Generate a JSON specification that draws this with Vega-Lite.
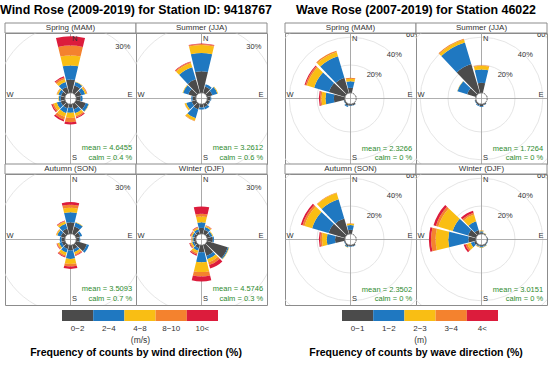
{
  "$schema": "https://vega.github.io/schema/vega-lite/v6.json",
  "padding": {"left": 0, "top": 3, "right": 0, "bottom": 0},
  "config": {"view": {"stroke": "#8c8c8c"}, "font": "Liberation Sans", "text": {"color": "#333333"},
             "header": {"labels": false, "title": null, "labelFontSize": 0, "labelPadding": 0, "titlePadding": 0},
             "headerFacet": {"labels": false, "title": null, "labelFontSize": 0, "labelPadding": 0},
             "headerRow": {"labels": false, "title": null, "labelFontSize": 0, "labelPadding": 0},
             "headerColumn": {"labels": false, "title": null, "labelFontSize": 0, "labelPadding": 0}},
  "spacing": 12,
  "datasets": {
    "wind": [
      {"k": "m", "s": "MAM", "t": "Spring (MAM)", "mean": "mean = 4.6455", "calm": "calm = 0.4 %"},
      {"k": "m", "s": "JJA", "t": "Summer (JJA)", "mean": "mean = 3.2612", "calm": "calm = 0.6 %"},
      {"k": "m", "s": "SON", "t": "Autumn (SON)", "mean": "mean = 3.5093", "calm": "calm = 0.7 %"},
      {"k": "m", "s": "DJF", "t": "Winter (DJF)", "mean": "mean = 4.5746", "calm": "calm = 0.3 %"},
      {"s": "MAM", "d": 0, "b": 0, "f": 5.8}, {"s": "MAM", "d": 0, "b": 1, "f": 6.2}, {"s": "MAM", "d": 0, "b": 2, "f": 4.4}, {"s": "MAM", "d": 0, "b": 3, "f": 4.3}, {"s": "MAM", "d": 0, "b": 4, "f": 4.1},
      {"s": "MAM", "d": 30, "b": 0, "f": 3.5}, {"s": "MAM", "d": 30, "b": 1, "f": 1.5}, {"s": "MAM", "d": 30, "b": 2, "f": 0.3},
      {"s": "MAM", "d": 60, "b": 0, "f": 2.5}, {"s": "MAM", "d": 60, "b": 1, "f": 1.7}, {"s": "MAM", "d": 60, "b": 2, "f": 0.7}, {"s": "MAM", "d": 60, "b": 3, "f": 0.2}, {"s": "MAM", "d": 60, "b": 4, "f": 0.1},
      {"s": "MAM", "d": 90, "b": 0, "f": 2.0}, {"s": "MAM", "d": 90, "b": 1, "f": 0.8},
      {"s": "MAM", "d": 120, "b": 0, "f": 4.5}, {"s": "MAM", "d": 120, "b": 1, "f": 1.3}, {"s": "MAM", "d": 120, "b": 2, "f": 0.2},
      {"s": "MAM", "d": 150, "b": 0, "f": 2.5}, {"s": "MAM", "d": 150, "b": 1, "f": 1.8}, {"s": "MAM", "d": 150, "b": 2, "f": 1.2}, {"s": "MAM", "d": 150, "b": 3, "f": 0.6}, {"s": "MAM", "d": 150, "b": 4, "f": 0.5},
      {"s": "MAM", "d": 180, "b": 0, "f": 1.6}, {"s": "MAM", "d": 180, "b": 1, "f": 2.2}, {"s": "MAM", "d": 180, "b": 2, "f": 2.2}, {"s": "MAM", "d": 180, "b": 3, "f": 1.9}, {"s": "MAM", "d": 180, "b": 4, "f": 1.0},
      {"s": "MAM", "d": 210, "b": 0, "f": 2.0}, {"s": "MAM", "d": 210, "b": 1, "f": 2.2}, {"s": "MAM", "d": 210, "b": 2, "f": 1.8}, {"s": "MAM", "d": 210, "b": 3, "f": 1.2}, {"s": "MAM", "d": 210, "b": 4, "f": 0.8},
      {"s": "MAM", "d": 240, "b": 0, "f": 2.0}, {"s": "MAM", "d": 240, "b": 1, "f": 1.8}, {"s": "MAM", "d": 240, "b": 2, "f": 1.3}, {"s": "MAM", "d": 240, "b": 3, "f": 0.7}, {"s": "MAM", "d": 240, "b": 4, "f": 0.5},
      {"s": "MAM", "d": 270, "b": 0, "f": 1.8}, {"s": "MAM", "d": 270, "b": 1, "f": 0.8}, {"s": "MAM", "d": 270, "b": 2, "f": 0.2},
      {"s": "MAM", "d": 300, "b": 0, "f": 1.8}, {"s": "MAM", "d": 300, "b": 1, "f": 1.3}, {"s": "MAM", "d": 300, "b": 2, "f": 0.6}, {"s": "MAM", "d": 300, "b": 3, "f": 0.2},
      {"s": "MAM", "d": 330, "b": 0, "f": 2.8}, {"s": "MAM", "d": 330, "b": 1, "f": 2.2}, {"s": "MAM", "d": 330, "b": 2, "f": 1.3}, {"s": "MAM", "d": 330, "b": 3, "f": 0.8}, {"s": "MAM", "d": 330, "b": 4, "f": 0.6},

      {"s": "JJA", "d": 0, "b": 0, "f": 9.5}, {"s": "JJA", "d": 0, "b": 1, "f": 8.0}, {"s": "JJA", "d": 0, "b": 2, "f": 3.5}, {"s": "JJA", "d": 0, "b": 3, "f": 0.4}, {"s": "JJA", "d": 0, "b": 4, "f": 0.2},
      {"s": "JJA", "d": 30, "b": 0, "f": 3.0}, {"s": "JJA", "d": 30, "b": 1, "f": 1.0},
      {"s": "JJA", "d": 60, "b": 0, "f": 2.5}, {"s": "JJA", "d": 60, "b": 1, "f": 2.3}, {"s": "JJA", "d": 60, "b": 2, "f": 0.3},
      {"s": "JJA", "d": 90, "b": 0, "f": 1.5}, {"s": "JJA", "d": 90, "b": 1, "f": 0.3},
      {"s": "JJA", "d": 120, "b": 0, "f": 1.2}, {"s": "JJA", "d": 120, "b": 1, "f": 0.3},
      {"s": "JJA", "d": 150, "b": 0, "f": 1.5}, {"s": "JJA", "d": 150, "b": 1, "f": 1.0},
      {"s": "JJA", "d": 180, "b": 0, "f": 1.5}, {"s": "JJA", "d": 180, "b": 1, "f": 0.8},
      {"s": "JJA", "d": 210, "b": 0, "f": 2.5}, {"s": "JJA", "d": 210, "b": 1, "f": 4.0}, {"s": "JJA", "d": 210, "b": 2, "f": 1.2}, {"s": "JJA", "d": 210, "b": 3, "f": 0.2},
      {"s": "JJA", "d": 240, "b": 0, "f": 2.0}, {"s": "JJA", "d": 240, "b": 1, "f": 2.5}, {"s": "JJA", "d": 240, "b": 2, "f": 0.7}, {"s": "JJA", "d": 240, "b": 3, "f": 0.1},
      {"s": "JJA", "d": 270, "b": 0, "f": 1.5}, {"s": "JJA", "d": 270, "b": 1, "f": 0.5},
      {"s": "JJA", "d": 300, "b": 0, "f": 3.5}, {"s": "JJA", "d": 300, "b": 1, "f": 2.4}, {"s": "JJA", "d": 300, "b": 2, "f": 0.3},
      {"s": "JJA", "d": 330, "b": 0, "f": 6.3}, {"s": "JJA", "d": 330, "b": 1, "f": 5.5}, {"s": "JJA", "d": 330, "b": 2, "f": 1.9}, {"s": "JJA", "d": 330, "b": 3, "f": 0.5}, {"s": "JJA", "d": 330, "b": 4, "f": 0.2},

      {"s": "SON", "d": 0, "b": 0, "f": 5.1}, {"s": "SON", "d": 0, "b": 1, "f": 4.4}, {"s": "SON", "d": 0, "b": 2, "f": 1.9}, {"s": "SON", "d": 0, "b": 3, "f": 1.3}, {"s": "SON", "d": 0, "b": 4, "f": 1.2},
      {"s": "SON", "d": 30, "b": 0, "f": 3.5}, {"s": "SON", "d": 30, "b": 1, "f": 1.8}, {"s": "SON", "d": 30, "b": 2, "f": 0.2},
      {"s": "SON", "d": 60, "b": 0, "f": 2.0}, {"s": "SON", "d": 60, "b": 1, "f": 0.8},
      {"s": "SON", "d": 90, "b": 0, "f": 1.5}, {"s": "SON", "d": 90, "b": 1, "f": 0.3},
      {"s": "SON", "d": 120, "b": 0, "f": 5.0}, {"s": "SON", "d": 120, "b": 1, "f": 1.0},
      {"s": "SON", "d": 150, "b": 0, "f": 2.0}, {"s": "SON", "d": 150, "b": 1, "f": 1.3}, {"s": "SON", "d": 150, "b": 2, "f": 0.9}, {"s": "SON", "d": 150, "b": 3, "f": 0.5}, {"s": "SON", "d": 150, "b": 4, "f": 0.3},
      {"s": "SON", "d": 180, "b": 0, "f": 2.3}, {"s": "SON", "d": 180, "b": 1, "f": 3.7}, {"s": "SON", "d": 180, "b": 2, "f": 2.2}, {"s": "SON", "d": 180, "b": 3, "f": 1.1}, {"s": "SON", "d": 180, "b": 4, "f": 1.1},
      {"s": "SON", "d": 210, "b": 0, "f": 1.8}, {"s": "SON", "d": 210, "b": 1, "f": 1.7}, {"s": "SON", "d": 210, "b": 2, "f": 1.2}, {"s": "SON", "d": 210, "b": 3, "f": 0.6}, {"s": "SON", "d": 210, "b": 4, "f": 0.4},
      {"s": "SON", "d": 240, "b": 0, "f": 1.5}, {"s": "SON", "d": 240, "b": 1, "f": 1.2}, {"s": "SON", "d": 240, "b": 2, "f": 0.7}, {"s": "SON", "d": 240, "b": 3, "f": 0.3}, {"s": "SON", "d": 240, "b": 4, "f": 0.2},
      {"s": "SON", "d": 270, "b": 0, "f": 1.5}, {"s": "SON", "d": 270, "b": 1, "f": 0.7},
      {"s": "SON", "d": 300, "b": 0, "f": 2.0}, {"s": "SON", "d": 300, "b": 1, "f": 1.5}, {"s": "SON", "d": 300, "b": 2, "f": 0.5}, {"s": "SON", "d": 300, "b": 3, "f": 0.2},
      {"s": "SON", "d": 330, "b": 0, "f": 2.5}, {"s": "SON", "d": 330, "b": 1, "f": 2.2}, {"s": "SON", "d": 330, "b": 2, "f": 1.0}, {"s": "SON", "d": 330, "b": 3, "f": 0.3}, {"s": "SON", "d": 330, "b": 4, "f": 0.2},

      {"s": "DJF", "d": 0, "b": 0, "f": 2.6}, {"s": "DJF", "d": 0, "b": 1, "f": 2.5}, {"s": "DJF", "d": 0, "b": 2, "f": 2.5}, {"s": "DJF", "d": 0, "b": 3, "f": 1.2}, {"s": "DJF", "d": 0, "b": 4, "f": 3.2},
      {"s": "DJF", "d": 30, "b": 0, "f": 2.0}, {"s": "DJF", "d": 30, "b": 1, "f": 1.2}, {"s": "DJF", "d": 30, "b": 2, "f": 0.5}, {"s": "DJF", "d": 30, "b": 3, "f": 0.2}, {"s": "DJF", "d": 30, "b": 4, "f": 0.1},
      {"s": "DJF", "d": 60, "b": 0, "f": 1.5}, {"s": "DJF", "d": 60, "b": 1, "f": 1.0}, {"s": "DJF", "d": 60, "b": 2, "f": 0.3},
      {"s": "DJF", "d": 90, "b": 0, "f": 2.5}, {"s": "DJF", "d": 90, "b": 1, "f": 0.5},
      {"s": "DJF", "d": 120, "b": 0, "f": 9.5}, {"s": "DJF", "d": 120, "b": 1, "f": 0.5}, {"s": "DJF", "d": 120, "b": 2, "f": 0.2},
      {"s": "DJF", "d": 150, "b": 0, "f": 5.0}, {"s": "DJF", "d": 150, "b": 1, "f": 1.5}, {"s": "DJF", "d": 150, "b": 2, "f": 1.5}, {"s": "DJF", "d": 150, "b": 3, "f": 1.2}, {"s": "DJF", "d": 150, "b": 4, "f": 1.6},
      {"s": "DJF", "d": 180, "b": 0, "f": 3.1}, {"s": "DJF", "d": 180, "b": 1, "f": 4.4}, {"s": "DJF", "d": 180, "b": 2, "f": 4.3}, {"s": "DJF", "d": 180, "b": 3, "f": 1.9}, {"s": "DJF", "d": 180, "b": 4, "f": 2.2},
      {"s": "DJF", "d": 210, "b": 0, "f": 1.5}, {"s": "DJF", "d": 210, "b": 1, "f": 1.2}, {"s": "DJF", "d": 210, "b": 2, "f": 1.0}, {"s": "DJF", "d": 210, "b": 3, "f": 0.7}, {"s": "DJF", "d": 210, "b": 4, "f": 0.5},
      {"s": "DJF", "d": 240, "b": 0, "f": 1.0}, {"s": "DJF", "d": 240, "b": 1, "f": 0.8}, {"s": "DJF", "d": 240, "b": 2, "f": 0.6}, {"s": "DJF", "d": 240, "b": 3, "f": 0.4}, {"s": "DJF", "d": 240, "b": 4, "f": 0.3},
      {"s": "DJF", "d": 270, "b": 0, "f": 1.0}, {"s": "DJF", "d": 270, "b": 1, "f": 0.5}, {"s": "DJF", "d": 270, "b": 2, "f": 0.3}, {"s": "DJF", "d": 270, "b": 3, "f": 0.1}, {"s": "DJF", "d": 270, "b": 4, "f": 0.1},
      {"s": "DJF", "d": 300, "b": 0, "f": 1.0}, {"s": "DJF", "d": 300, "b": 1, "f": 0.8}, {"s": "DJF", "d": 300, "b": 2, "f": 0.5}, {"s": "DJF", "d": 300, "b": 3, "f": 0.3}, {"s": "DJF", "d": 300, "b": 4, "f": 0.2},
      {"s": "DJF", "d": 330, "b": 0, "f": 1.2}, {"s": "DJF", "d": 330, "b": 1, "f": 1.0}, {"s": "DJF", "d": 330, "b": 2, "f": 0.6}, {"s": "DJF", "d": 330, "b": 3, "f": 0.3}, {"s": "DJF", "d": 330, "b": 4, "f": 0.2}
    ],
    "wave": [
      {"k": "m", "s": "MAM", "t": "Spring (MAM)", "mean": "mean = 2.3266", "calm": "calm = 0 %"},
      {"k": "m", "s": "JJA", "t": "Summer (JJA)", "mean": "mean = 1.7264", "calm": "calm = 0 %"},
      {"k": "m", "s": "SON", "t": "Autumn (SON)", "mean": "mean = 2.3502", "calm": "calm = 0 %"},
      {"k": "m", "s": "DJF", "t": "Winter (DJF)", "mean": "mean = 3.0151", "calm": "calm = 0 %"},
      {"s": "MAM", "d": 0, "b": 0, "f": 3.6}, {"s": "MAM", "d": 0, "b": 1, "f": 4.7}, {"s": "MAM", "d": 0, "b": 2, "f": 1.8}, {"s": "MAM", "d": 0, "b": 3, "f": 0.7},
      {"s": "MAM", "d": 150, "b": 0, "f": 1.2}, {"s": "MAM", "d": 150, "b": 1, "f": 0.2},
      {"s": "MAM", "d": 180, "b": 0, "f": 1.0}, {"s": "MAM", "d": 180, "b": 1, "f": 0.3},
      {"s": "MAM", "d": 210, "b": 0, "f": 1.5}, {"s": "MAM", "d": 210, "b": 1, "f": 0.8},
      {"s": "MAM", "d": 240, "b": 0, "f": 0.8}, {"s": "MAM", "d": 240, "b": 1, "f": 0.3},
      {"s": "MAM", "d": 270, "b": 0, "f": 7.9}, {"s": "MAM", "d": 270, "b": 1, "f": 6.0}, {"s": "MAM", "d": 270, "b": 2, "f": 2.9}, {"s": "MAM", "d": 270, "b": 3, "f": 1.1}, {"s": "MAM", "d": 270, "b": 4, "f": 0.8},
      {"s": "MAM", "d": 300, "b": 0, "f": 12.2}, {"s": "MAM", "d": 300, "b": 1, "f": 11.0}, {"s": "MAM", "d": 300, "b": 2, "f": 5.4}, {"s": "MAM", "d": 300, "b": 3, "f": 1.1}, {"s": "MAM", "d": 300, "b": 4, "f": 0.7},
      {"s": "MAM", "d": 330, "b": 0, "f": 11.4}, {"s": "MAM", "d": 330, "b": 1, "f": 16.2}, {"s": "MAM", "d": 330, "b": 2, "f": 3.2}, {"s": "MAM", "d": 330, "b": 3, "f": 0.9},

      {"s": "JJA", "d": 0, "b": 0, "f": 7.2}, {"s": "JJA", "d": 0, "b": 1, "f": 9.6}, {"s": "JJA", "d": 0, "b": 2, "f": 2.6}, {"s": "JJA", "d": 0, "b": 3, "f": 0.5},
      {"s": "JJA", "d": 150, "b": 0, "f": 0.8}, {"s": "JJA", "d": 150, "b": 1, "f": 0.2},
      {"s": "JJA", "d": 180, "b": 0, "f": 1.5}, {"s": "JJA", "d": 180, "b": 1, "f": 0.5},
      {"s": "JJA", "d": 210, "b": 0, "f": 1.2}, {"s": "JJA", "d": 210, "b": 1, "f": 0.5},
      {"s": "JJA", "d": 240, "b": 0, "f": 0.8}, {"s": "JJA", "d": 240, "b": 1, "f": 0.3},
      {"s": "JJA", "d": 300, "b": 0, "f": 6.7}, {"s": "JJA", "d": 300, "b": 1, "f": 7.3}, {"s": "JJA", "d": 300, "b": 2, "f": 0.2},
      {"s": "JJA", "d": 330, "b": 0, "f": 21.8}, {"s": "JJA", "d": 330, "b": 1, "f": 16.2}, {"s": "JJA", "d": 330, "b": 2, "f": 2.1}, {"s": "JJA", "d": 330, "b": 3, "f": 0.7},

      {"s": "SON", "d": 0, "b": 0, "f": 3.0}, {"s": "SON", "d": 0, "b": 1, "f": 3.3}, {"s": "SON", "d": 0, "b": 2, "f": 1.0}, {"s": "SON", "d": 0, "b": 3, "f": 0.3},
      {"s": "SON", "d": 150, "b": 0, "f": 1.0}, {"s": "SON", "d": 150, "b": 1, "f": 0.3},
      {"s": "SON", "d": 180, "b": 0, "f": 0.8}, {"s": "SON", "d": 180, "b": 1, "f": 0.3},
      {"s": "SON", "d": 210, "b": 0, "f": 1.2}, {"s": "SON", "d": 210, "b": 1, "f": 0.6}, {"s": "SON", "d": 210, "b": 2, "f": 0.2},
      {"s": "SON", "d": 240, "b": 0, "f": 0.6}, {"s": "SON", "d": 240, "b": 1, "f": 0.2},
      {"s": "SON", "d": 270, "b": 0, "f": 7.0}, {"s": "SON", "d": 270, "b": 1, "f": 6.0}, {"s": "SON", "d": 270, "b": 2, "f": 3.5}, {"s": "SON", "d": 270, "b": 3, "f": 1.3}, {"s": "SON", "d": 270, "b": 4, "f": 0.9},
      {"s": "SON", "d": 300, "b": 0, "f": 12.4}, {"s": "SON", "d": 300, "b": 1, "f": 12.3}, {"s": "SON", "d": 300, "b": 2, "f": 5.7}, {"s": "SON", "d": 300, "b": 3, "f": 1.5}, {"s": "SON", "d": 300, "b": 4, "f": 1.3},
      {"s": "SON", "d": 330, "b": 0, "f": 11.7}, {"s": "SON", "d": 330, "b": 1, "f": 14.4}, {"s": "SON", "d": 330, "b": 2, "f": 4.7}, {"s": "SON", "d": 330, "b": 3, "f": 0.3},

      {"s": "DJF", "d": 0, "b": 0, "f": 1.0}, {"s": "DJF", "d": 0, "b": 1, "f": 0.8}, {"s": "DJF", "d": 0, "b": 2, "f": 0.5}, {"s": "DJF", "d": 0, "b": 3, "f": 0.2}, {"s": "DJF", "d": 0, "b": 4, "f": 0.1},
      {"s": "DJF", "d": 30, "b": 0, "f": 0.5}, {"s": "DJF", "d": 30, "b": 1, "f": 0.3}, {"s": "DJF", "d": 30, "b": 2, "f": 0.2},
      {"s": "DJF", "d": 90, "b": 0, "f": 0.5}, {"s": "DJF", "d": 90, "b": 1, "f": 0.2},
      {"s": "DJF", "d": 120, "b": 0, "f": 0.5}, {"s": "DJF", "d": 120, "b": 1, "f": 0.2},
      {"s": "DJF", "d": 150, "b": 0, "f": 0.8}, {"s": "DJF", "d": 150, "b": 1, "f": 0.5}, {"s": "DJF", "d": 150, "b": 2, "f": 0.3},
      {"s": "DJF", "d": 180, "b": 0, "f": 0.8}, {"s": "DJF", "d": 180, "b": 1, "f": 0.8}, {"s": "DJF", "d": 180, "b": 2, "f": 0.4}, {"s": "DJF", "d": 180, "b": 3, "f": 0.1},
      {"s": "DJF", "d": 210, "b": 0, "f": 0.8}, {"s": "DJF", "d": 210, "b": 1, "f": 0.6}, {"s": "DJF", "d": 210, "b": 2, "f": 0.3}, {"s": "DJF", "d": 210, "b": 3, "f": 0.1},
      {"s": "DJF", "d": 240, "b": 0, "f": 1.5}, {"s": "DJF", "d": 240, "b": 1, "f": 2.5}, {"s": "DJF", "d": 240, "b": 2, "f": 2.5}, {"s": "DJF", "d": 240, "b": 3, "f": 1.5}, {"s": "DJF", "d": 240, "b": 4, "f": 1.3},
      {"s": "DJF", "d": 270, "b": 0, "f": 5.4}, {"s": "DJF", "d": 270, "b": 1, "f": 14.4}, {"s": "DJF", "d": 270, "b": 2, "f": 9.1}, {"s": "DJF", "d": 270, "b": 3, "f": 3.3}, {"s": "DJF", "d": 270, "b": 4, "f": 1.5},
      {"s": "DJF", "d": 300, "b": 0, "f": 6.0}, {"s": "DJF", "d": 300, "b": 1, "f": 11.5}, {"s": "DJF", "d": 300, "b": 2, "f": 10.8}, {"s": "DJF", "d": 300, "b": 3, "f": 1.8}, {"s": "DJF", "d": 300, "b": 4, "f": 1.8},
      {"s": "DJF", "d": 330, "b": 0, "f": 3.1}, {"s": "DJF", "d": 330, "b": 1, "f": 6.5}, {"s": "DJF", "d": 330, "b": 2, "f": 5.0}, {"s": "DJF", "d": 330, "b": 3, "f": 1.4}, {"s": "DJF", "d": 330, "b": 4, "f": 1.4}
    ]
  },
  "hconcat": [
    {
      "title": {"text": "Wind Rose (2009-2019) for Station ID: 9418767", "fontSize": 12.4, "fontWeight": "bold", "anchor": "middle", "offset": 6, "color": "#000000"},
      "spacing": 4,
      "vconcat": [
        {
          "data": {"name": "wind"},
          "facet": {"field": "s", "type": "nominal", "title": null, "header": {"title": null, "labels": false}, "sort": ["MAM", "JJA", "SON", "DJF"]},
          "columns": 2,
          "spacing": {"row": 10, "column": 0},
          "bounds": "flush",
          "spec": {
            "width": 131, "height": 131,
            "layer": [
              {"transform": [{"filter": "datum.k == 'm'"}], "mark": {"type": "arc", "filled": false, "stroke": "#dedede", "strokeWidth": 0.8, "clip": true},
               "encoding": {"theta": {"datum": 0, "type": "quantitative", "scale": {"domain": [0, 360], "range": [0, 6.283185307]}}, "theta2": {"datum": 360},
                            "radius": {"datum": 30, "type": "quantitative", "scale": {"type": "linear", "domain": [0, 30], "range": [5.7, 74.1], "zero": false, "nice": false}}}},
              {"transform": [{"filter": "datum.k == 'm'"}], "mark": {"type": "rule", "color": "#9a9a9a", "strokeWidth": 0.8},
               "encoding": {"x": {"datum": 0, "type": "quantitative", "scale": {"domain": [-65.5, 65.5], "nice": false, "zero": false}, "axis": null},
                            "y": {"datum": -65.5, "type": "quantitative", "scale": {"domain": [-65.5, 65.5], "nice": false, "zero": false}, "axis": null}, "y2": {"datum": 65.5}}},
              {"transform": [{"filter": "datum.k == 'm'"}], "mark": {"type": "rule", "color": "#9a9a9a", "strokeWidth": 0.8},
               "encoding": {"x": {"datum": -65.5, "type": "quantitative", "scale": {"domain": [-65.5, 65.5], "nice": false, "zero": false}, "axis": null}, "x2": {"datum": 65.5},
                            "y": {"datum": 0, "type": "quantitative", "scale": {"domain": [-65.5, 65.5], "nice": false, "zero": false}, "axis": null}}},
              {"transform": [{"filter": "datum.b != null"}],
               "mark": {"type": "arc", "thetaOffset": -0.2356, "theta2Offset": 0.2356},
               "encoding": {"theta": {"field": "d", "type": "quantitative", "scale": {"domain": [0, 360], "range": [0, 6.283185307]}}, "theta2": {"field": "d"},
                            "radius": {"field": "f", "type": "quantitative", "stack": true, "scale": {"type": "linear", "domain": [0, 30], "range": [5.7, 74.1], "zero": false, "nice": false}},
                            "color": {"field": "b", "type": "ordinal", "scale": {"domain": [0, 1, 2, 3, 4], "range": ["#4b4b4b", "#1f78c1", "#f9be14", "#f4822e", "#dc1c3c"]}, "legend": null},
                            "order": {"field": "b", "type": "quantitative", "sort": "ascending"}}},
              {"transform": [{"filter": "datum.k == 'm'"}], "mark": {"type": "arc", "filled": false, "stroke": "#707070", "strokeWidth": 0.7, "strokeDash": [1.5, 1.5]},
               "encoding": {"theta": {"datum": 0, "type": "quantitative", "scale": {"domain": [0, 360], "range": [0, 6.283185307]}}, "theta2": {"datum": 360},
                            "radius": {"datum": 0, "type": "quantitative", "scale": {"type": "linear", "domain": [0, 30], "range": [5.7, 74.1], "zero": false, "nice": false}}}},
              {"transform": [{"filter": "datum.k == 'm'"}], "mark": {"type": "text", "text": "N", "align": "left", "baseline": "middle", "fontSize": 7.5},
               "encoding": {"x": {"datum": 1.5, "type": "quantitative", "scale": {"domain": [-65.5, 65.5], "nice": false, "zero": false}, "axis": null},
                            "y": {"datum": 60, "type": "quantitative", "scale": {"domain": [-65.5, 65.5], "nice": false, "zero": false}, "axis": null}}},
              {"transform": [{"filter": "datum.k == 'm'"}], "mark": {"type": "text", "text": "S", "align": "left", "baseline": "middle", "fontSize": 7.5},
               "encoding": {"x": {"datum": 1.5, "type": "quantitative", "scale": {"domain": [-65.5, 65.5], "nice": false, "zero": false}, "axis": null},
                            "y": {"datum": -59.5, "type": "quantitative", "scale": {"domain": [-65.5, 65.5], "nice": false, "zero": false}, "axis": null}}},
              {"transform": [{"filter": "datum.k == 'm'"}], "mark": {"type": "text", "text": "W", "align": "left", "baseline": "middle", "fontSize": 7.5},
               "encoding": {"x": {"datum": -64, "type": "quantitative", "scale": {"domain": [-65.5, 65.5], "nice": false, "zero": false}, "axis": null},
                            "y": {"datum": 4, "type": "quantitative", "scale": {"domain": [-65.5, 65.5], "nice": false, "zero": false}, "axis": null}}},
              {"transform": [{"filter": "datum.k == 'm'"}], "mark": {"type": "text", "text": "E", "align": "right", "baseline": "middle", "fontSize": 7.5},
               "encoding": {"x": {"datum": 62, "type": "quantitative", "scale": {"domain": [-65.5, 65.5], "nice": false, "zero": false}, "axis": null},
                            "y": {"datum": 4, "type": "quantitative", "scale": {"domain": [-65.5, 65.5], "nice": false, "zero": false}, "axis": null}}},
              {"transform": [{"filter": "datum.k == 'm'"}], "mark": {"type": "text", "text": "30%", "align": "center", "baseline": "middle", "fontSize": 7.5},
               "encoding": {"x": {"datum": 52.3, "type": "quantitative", "scale": {"domain": [-65.5, 65.5], "nice": false, "zero": false}, "axis": null},
                            "y": {"datum": 52, "type": "quantitative", "scale": {"domain": [-65.5, 65.5], "nice": false, "zero": false}, "axis": null}}},
              {"transform": [{"filter": "datum.k == 'm'"}], "mark": {"type": "text", "align": "right", "baseline": "middle", "fontSize": 7.5, "color": "#2e8b2e"},
               "encoding": {"x": {"datum": 61.6, "type": "quantitative", "scale": {"domain": [-65.5, 65.5], "nice": false, "zero": false}, "axis": null},
                            "y": {"datum": -49.3, "type": "quantitative", "scale": {"domain": [-65.5, 65.5], "nice": false, "zero": false}, "axis": null}, "text": {"field": "mean"}}},
              {"transform": [{"filter": "datum.k == 'm'"}], "mark": {"type": "text", "align": "right", "baseline": "middle", "fontSize": 7.5, "color": "#2e8b2e"},
               "encoding": {"x": {"datum": 61.6, "type": "quantitative", "scale": {"domain": [-65.5, 65.5], "nice": false, "zero": false}, "axis": null},
                            "y": {"datum": -59.3, "type": "quantitative", "scale": {"domain": [-65.5, 65.5], "nice": false, "zero": false}, "axis": null}, "text": {"field": "calm"}}},
              {"transform": [{"filter": "datum.k == 'm'"}], "mark": {"type": "rect", "fill": "white", "stroke": "#8c8c8c", "strokeWidth": 1},
               "encoding": {"x": {"datum": -65.5, "type": "quantitative", "scale": {"domain": [-65.5, 65.5], "nice": false, "zero": false}, "axis": null}, "x2": {"datum": 65.5},
                            "y": {"datum": 65.5, "type": "quantitative", "scale": {"domain": [-65.5, 65.5], "nice": false, "zero": false}, "axis": null}, "y2": {"datum": 75.5}}},
              {"transform": [{"filter": "datum.k == 'm'"}], "mark": {"type": "text", "align": "center", "baseline": "middle", "fontSize": 8},
               "encoding": {"x": {"datum": 0, "type": "quantitative", "scale": {"domain": [-65.5, 65.5], "nice": false, "zero": false}, "axis": null},
                            "y": {"datum": 70.5, "type": "quantitative", "scale": {"domain": [-65.5, 65.5], "nice": false, "zero": false}, "axis": null}, "text": {"field": "t"}}}
            ]
          }
        },
        {
          "width": 262, "height": 11,
          "view": {"stroke": null},
          "data": {"values": [{"lab": "0−2", "b": 0}, {"lab": "2−4", "b": 1}, {"lab": "4−8", "b": 2}, {"lab": "8−10", "b": 3}, {"lab": "10<", "b": 4}]},
          "mark": {"type": "rect"},
          "encoding": {
            "x": {"field": "lab", "type": "ordinal", "sort": null, "scale": {"range": [57, 213], "paddingInner": 0, "paddingOuter": 0},
                  "axis": {"title": "(m/s)", "ticks": false, "domain": false, "labelAngle": 0, "labelFontSize": 8, "labelPadding": 3, "labelColor": "#333333", "titleFontSize": 8.5, "titleFontWeight": "normal", "titlePadding": 3, "titleColor": "#333333"}},
            "color": {"field": "b", "type": "ordinal", "scale": {"domain": [0, 1, 2, 3, 4], "range": ["#4b4b4b", "#1f78c1", "#f9be14", "#f4822e", "#dc1c3c"]}, "legend": null}
          },
          "title": {"text": "Frequency of counts by wind direction (%)", "orient": "bottom", "fontSize": 10.5, "fontWeight": "bold", "anchor": "middle", "offset": 4, "color": "#000000"}
        }
      ]
    },
    {
      "title": {"text": "Wave Rose (2007-2019) for Station 46022", "fontSize": 12.4, "fontWeight": "bold", "anchor": "middle", "offset": 6, "color": "#000000"},
      "spacing": 4,
      "vconcat": [
        {
          "data": {"name": "wave"},
          "facet": {"field": "s", "type": "nominal", "title": null, "header": {"title": null, "labels": false}, "sort": ["MAM", "JJA", "SON", "DJF"]},
          "columns": 2,
          "spacing": {"row": 10, "column": 0},
          "bounds": "flush",
          "spec": {
            "width": 131, "height": 131,
            "layer": [
              {"transform": [{"filter": "datum.k == 'm'"}], "mark": {"type": "arc", "filled": false, "stroke": "#dedede", "strokeWidth": 0.8, "clip": true},
               "encoding": {"theta": {"datum": 0, "type": "quantitative", "scale": {"domain": [0, 360], "range": [0, 6.283185307]}}, "theta2": {"datum": 360},
                            "radius": {"datum": 20, "type": "quantitative", "scale": {"type": "linear", "domain": [0, 40], "range": [5.7, 61.3], "zero": false, "nice": false}}}},
              {"transform": [{"filter": "datum.k == 'm'"}], "mark": {"type": "arc", "filled": false, "stroke": "#dedede", "strokeWidth": 0.8, "clip": true},
               "encoding": {"theta": {"datum": 0, "type": "quantitative", "scale": {"domain": [0, 360], "range": [0, 6.283185307]}}, "theta2": {"datum": 360},
                            "radius": {"datum": 40, "type": "quantitative", "scale": {"type": "linear", "domain": [0, 40], "range": [5.7, 61.3], "zero": false, "nice": false}}}},
              {"transform": [{"filter": "datum.k == 'm'"}], "mark": {"type": "arc", "filled": false, "stroke": "#dedede", "strokeWidth": 0.8, "clip": true},
               "encoding": {"theta": {"datum": 0, "type": "quantitative", "scale": {"domain": [0, 360], "range": [0, 6.283185307]}}, "theta2": {"datum": 360},
                            "radius": {"datum": 60, "type": "quantitative", "scale": {"type": "linear", "domain": [0, 40], "range": [5.7, 61.3], "zero": false, "nice": false}}}},
              {"transform": [{"filter": "datum.k == 'm'"}], "mark": {"type": "rule", "color": "#9a9a9a", "strokeWidth": 0.8},
               "encoding": {"x": {"datum": 0, "type": "quantitative", "scale": {"domain": [-65.5, 65.5], "nice": false, "zero": false}, "axis": null},
                            "y": {"datum": -65.5, "type": "quantitative", "scale": {"domain": [-65.5, 65.5], "nice": false, "zero": false}, "axis": null}, "y2": {"datum": 65.5}}},
              {"transform": [{"filter": "datum.k == 'm'"}], "mark": {"type": "rule", "color": "#9a9a9a", "strokeWidth": 0.8},
               "encoding": {"x": {"datum": -65.5, "type": "quantitative", "scale": {"domain": [-65.5, 65.5], "nice": false, "zero": false}, "axis": null}, "x2": {"datum": 65.5},
                            "y": {"datum": 0, "type": "quantitative", "scale": {"domain": [-65.5, 65.5], "nice": false, "zero": false}, "axis": null}}},
              {"transform": [{"filter": "datum.b != null"}],
               "mark": {"type": "arc", "thetaOffset": -0.2356, "theta2Offset": 0.2356},
               "encoding": {"theta": {"field": "d", "type": "quantitative", "scale": {"domain": [0, 360], "range": [0, 6.283185307]}}, "theta2": {"field": "d"},
                            "radius": {"field": "f", "type": "quantitative", "stack": true, "scale": {"type": "linear", "domain": [0, 40], "range": [5.7, 61.3], "zero": false, "nice": false}},
                            "color": {"field": "b", "type": "ordinal", "scale": {"domain": [0, 1, 2, 3, 4], "range": ["#4b4b4b", "#1f78c1", "#f9be14", "#f4822e", "#dc1c3c"]}, "legend": null},
                            "order": {"field": "b", "type": "quantitative", "sort": "ascending"}}},
              {"transform": [{"filter": "datum.k == 'm'"}], "mark": {"type": "arc", "filled": false, "stroke": "#707070", "strokeWidth": 0.7, "strokeDash": [1.5, 1.5]},
               "encoding": {"theta": {"datum": 0, "type": "quantitative", "scale": {"domain": [0, 360], "range": [0, 6.283185307]}}, "theta2": {"datum": 360},
                            "radius": {"datum": 0, "type": "quantitative", "scale": {"type": "linear", "domain": [0, 40], "range": [5.7, 61.3], "zero": false, "nice": false}}}},
              {"transform": [{"filter": "datum.k == 'm'"}], "mark": {"type": "text", "text": "N", "align": "left", "baseline": "middle", "fontSize": 7.5},
               "encoding": {"x": {"datum": 1.5, "type": "quantitative", "scale": {"domain": [-65.5, 65.5], "nice": false, "zero": false}, "axis": null},
                            "y": {"datum": 60, "type": "quantitative", "scale": {"domain": [-65.5, 65.5], "nice": false, "zero": false}, "axis": null}}},
              {"transform": [{"filter": "datum.k == 'm'"}], "mark": {"type": "text", "text": "S", "align": "left", "baseline": "middle", "fontSize": 7.5},
               "encoding": {"x": {"datum": 1.5, "type": "quantitative", "scale": {"domain": [-65.5, 65.5], "nice": false, "zero": false}, "axis": null},
                            "y": {"datum": -59.5, "type": "quantitative", "scale": {"domain": [-65.5, 65.5], "nice": false, "zero": false}, "axis": null}}},
              {"transform": [{"filter": "datum.k == 'm'"}], "mark": {"type": "text", "text": "W", "align": "left", "baseline": "middle", "fontSize": 7.5},
               "encoding": {"x": {"datum": -64, "type": "quantitative", "scale": {"domain": [-65.5, 65.5], "nice": false, "zero": false}, "axis": null},
                            "y": {"datum": 4, "type": "quantitative", "scale": {"domain": [-65.5, 65.5], "nice": false, "zero": false}, "axis": null}}},
              {"transform": [{"filter": "datum.k == 'm'"}], "mark": {"type": "text", "text": "E", "align": "right", "baseline": "middle", "fontSize": 7.5},
               "encoding": {"x": {"datum": 62, "type": "quantitative", "scale": {"domain": [-65.5, 65.5], "nice": false, "zero": false}, "axis": null},
                            "y": {"datum": 4, "type": "quantitative", "scale": {"domain": [-65.5, 65.5], "nice": false, "zero": false}, "axis": null}}},
              {"transform": [{"filter": "datum.k == 'm'"}], "mark": {"type": "text", "text": "20%", "align": "center", "baseline": "middle", "fontSize": 7.5},
               "encoding": {"x": {"datum": 23.7, "type": "quantitative", "scale": {"domain": [-65.5, 65.5], "nice": false, "zero": false}, "axis": null},
                            "y": {"datum": 23.7, "type": "quantitative", "scale": {"domain": [-65.5, 65.5], "nice": false, "zero": false}, "axis": null}}},
              {"transform": [{"filter": "datum.k == 'm'"}], "mark": {"type": "text", "text": "40%", "align": "center", "baseline": "middle", "fontSize": 7.5},
               "encoding": {"x": {"datum": 43.8, "type": "quantitative", "scale": {"domain": [-65.5, 65.5], "nice": false, "zero": false}, "axis": null},
                            "y": {"datum": 44, "type": "quantitative", "scale": {"domain": [-65.5, 65.5], "nice": false, "zero": false}, "axis": null}}},
              {"transform": [{"filter": "datum.k == 'm'"}], "mark": {"type": "text", "text": "60%", "align": "center", "baseline": "middle", "fontSize": 7.5, "clip": true},
               "encoding": {"x": {"datum": 63, "type": "quantitative", "scale": {"domain": [-65.5, 65.5], "nice": false, "zero": false}, "axis": null},
                            "y": {"datum": 64, "type": "quantitative", "scale": {"domain": [-65.5, 65.5], "nice": false, "zero": false}, "axis": null}}},
              {"transform": [{"filter": "datum.k == 'm'"}], "mark": {"type": "text", "align": "right", "baseline": "middle", "fontSize": 7.5, "color": "#2e8b2e"},
               "encoding": {"x": {"datum": 61.6, "type": "quantitative", "scale": {"domain": [-65.5, 65.5], "nice": false, "zero": false}, "axis": null},
                            "y": {"datum": -50, "type": "quantitative", "scale": {"domain": [-65.5, 65.5], "nice": false, "zero": false}, "axis": null}, "text": {"field": "mean"}}},
              {"transform": [{"filter": "datum.k == 'm'"}], "mark": {"type": "text", "align": "right", "baseline": "middle", "fontSize": 7.5, "color": "#2e8b2e"},
               "encoding": {"x": {"datum": 61.6, "type": "quantitative", "scale": {"domain": [-65.5, 65.5], "nice": false, "zero": false}, "axis": null},
                            "y": {"datum": -59.3, "type": "quantitative", "scale": {"domain": [-65.5, 65.5], "nice": false, "zero": false}, "axis": null}, "text": {"field": "calm"}}},
              {"transform": [{"filter": "datum.k == 'm'"}], "mark": {"type": "rect", "fill": "white", "stroke": "#8c8c8c", "strokeWidth": 1},
               "encoding": {"x": {"datum": -65.5, "type": "quantitative", "scale": {"domain": [-65.5, 65.5], "nice": false, "zero": false}, "axis": null}, "x2": {"datum": 65.5},
                            "y": {"datum": 65.5, "type": "quantitative", "scale": {"domain": [-65.5, 65.5], "nice": false, "zero": false}, "axis": null}, "y2": {"datum": 75.5}}},
              {"transform": [{"filter": "datum.k == 'm'"}], "mark": {"type": "text", "align": "center", "baseline": "middle", "fontSize": 8},
               "encoding": {"x": {"datum": 0, "type": "quantitative", "scale": {"domain": [-65.5, 65.5], "nice": false, "zero": false}, "axis": null},
                            "y": {"datum": 70.5, "type": "quantitative", "scale": {"domain": [-65.5, 65.5], "nice": false, "zero": false}, "axis": null}, "text": {"field": "t"}}}
            ]
          }
        },
        {
          "width": 262, "height": 11,
          "view": {"stroke": null},
          "data": {"values": [{"lab": "0−1", "b": 0}, {"lab": "1−2", "b": 1}, {"lab": "2−3", "b": 2}, {"lab": "3−4", "b": 3}, {"lab": "4<", "b": 4}]},
          "mark": {"type": "rect"},
          "encoding": {
            "x": {"field": "lab", "type": "ordinal", "sort": null, "scale": {"range": [57, 213], "paddingInner": 0, "paddingOuter": 0},
                  "axis": {"title": "(m)", "ticks": false, "domain": false, "labelAngle": 0, "labelFontSize": 8, "labelPadding": 3, "labelColor": "#333333", "titleFontSize": 8.5, "titleFontWeight": "normal", "titlePadding": 3, "titleColor": "#333333"}},
            "color": {"field": "b", "type": "ordinal", "scale": {"domain": [0, 1, 2, 3, 4], "range": ["#4b4b4b", "#1f78c1", "#f9be14", "#f4822e", "#dc1c3c"]}, "legend": null}
          },
          "title": {"text": "Frequency of counts by wave direction (%)", "orient": "bottom", "fontSize": 10.5, "fontWeight": "bold", "anchor": "middle", "offset": 4, "color": "#000000"}
        }
      ]
    }
  ]
}
